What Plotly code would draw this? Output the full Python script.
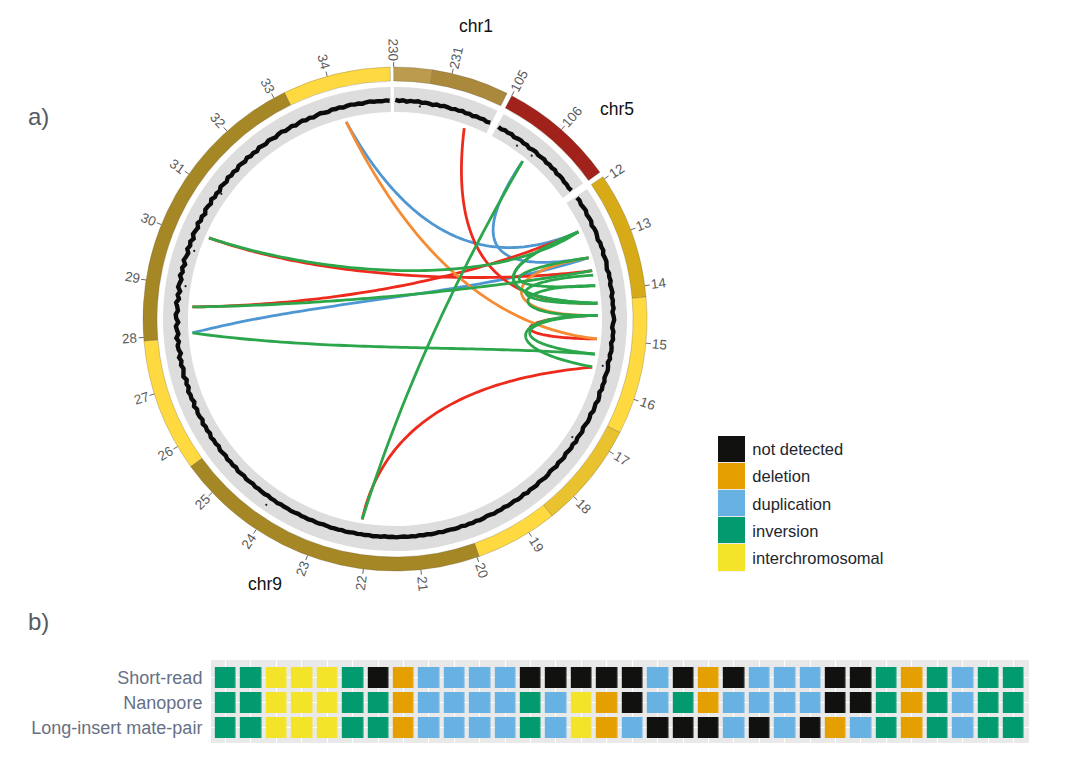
import math
import numpy as np
import plotly.graph_objects as go

W, H = 1065, 762
CX, CY, RMAX = 395, 319, 262

# ---- ideogram: (deg per Mb scale defined by anchors) ----
chrom_anchor_mb = {"chr1": 230, "chr5": 105, "chr9": 12}
chrom_anchor_deg = {"chr1": -0.3, "chr5": 27.6, "chr9": 56.2}
chrom_deg_per_mb = {"chr1": 13.4, "chr5": 13.7, "chr9": 13.1}

band_start = [-0.3, 8.6, 27.6, 55.6, 85.0, 116.8, 141.4, 160.5, 234.2, 265.0, 334.0]
band_end = [8.6, 26.4, 54.4, 85.0, 116.8, 141.4, 160.5, 234.2, 265.0, 334.0, 358.9]
band_color = ["#BC9B4E", "#AB893C", "#A0221A", "#D6AB17", "#FFD940", "#E9C22F", "#FFD940",
              "#A68725", "#FFD940", "#A68725", "#FFD940"]

tick_chr1 = [230, 231]
tick_chr5 = [105, 106]
tick_chr9 = list(range(12, 35))

track_start = [-0.3, 27.9, 55.9]
track_end = [26.2, 54.2, 358.9]

# ---- read-depth track, one list per chromosome (offset from the ring line) ----
depth_chr1 = [1.0, 0.1, 0.8, -0.3, 0.6, 0.2, 0.9, -0.2, 0.5, 0.0, -0.6, 0.4, -0.3, 0.5, 0.1, -0.5,
              0.3, -0.2, 0.6, -0.4, 0.2, -0.6, 0.3, -0.1, 0.4, -0.5, 0.2]
depth_chr5 = [0.2, -0.5, 0.4, -0.2, 0.6, -0.6, 0.1, 0.5, -0.3, 0.4, -0.7, 0.2, 0.6, -0.4, 0.0, 0.5,
              -0.5, 0.3, -0.2, 0.6, -0.6, 0.2, 0.4, -0.3, 0.1, -0.4, 0.3]
depth_chr9 = [
    0.6, 1.2, 0.3, 0.9, 1.4, 0.2, 0.8, 1.1, -0.2, 0.7, 1.0, 0.4, -0.3, 0.9, 0.5, 1.2,
    -0.1, 0.6, 1.0, 0.2, -0.4, 0.8, 0.3, 0.9, -0.2, 0.5, 1.0, -0.3, 0.6, 0.1, 0.8, -0.4,
    0.5, 1.1, 0.0, -0.6, 0.7, 0.3, 0.9, -0.5, 0.4, 0.7, -0.2, 0.6, -0.7, 0.3, 0.8, 0.1,
    -0.4, 0.6, -0.1, 0.5, -0.8, 0.4, 0.9, -0.3, 0.2, 0.7, -0.6, 0.3, 0.5, -0.2, -0.7, 0.6,
    0.1, -0.3, 0.7, -0.5, 0.4, 0.0, -0.6, 0.5, 0.2, -0.4, 0.6, -0.2, -0.6, 0.3, 0.5, -0.1,
    -0.5, 0.4, 0.1, -0.3, 0.5, -0.6, 0.2, 0.4, -0.4, 0.0, 0.3, -0.5, 0.2, -0.1, 0.4, -0.3,
    -0.6, 0.1, 0.3, -0.4, 0.2, -0.2, 0.3, -0.5, 0.1, 0.2, -0.3, -0.1, 0.3, -0.4, 0.0, 0.2,
    -0.3, 0.1, -0.4, 0.3, -0.1, 0.2, -0.3, 0.0, 0.3, -0.2, 0.1, -0.4, 0.2, -0.1, 0.3, -0.3,
    0.1, -0.2, 0.2, -0.4, 0.0, 0.3, -0.3, 0.1, -0.1, 0.3, -0.2, -0.4, 0.2, 0.0, -0.3, 0.3,
    -0.1, 0.2, -0.4, 0.1, 0.3, -0.2, 0.0, -0.3, 0.4, -0.1, 0.2, -0.5, 0.3, 0.1, -0.2, 0.4,
    -0.4, 0.2, 0.5, -0.3, 0.1, 0.6, -0.5, 0.3, -0.1, 0.6, -0.4, 0.2, 0.7, -0.6, 0.3, 0.0,
    0.8, -0.5, 0.4, -0.2, 0.9, -0.7, 0.3, 0.6, -0.4, 1.0, -0.8, 0.5, 0.1, 1.1, -0.6, 0.4,
    -0.9, 1.2, 0.2, -0.7, 0.8, -0.3, 1.2, -1.0, 0.5, 0.9, -0.6, 1.3, -0.8, 0.3, 1.1, -1.1,
    0.7, 1.2, -0.7, 0.1, 1.3, -0.9, 0.6, -1.2, 1.1, 0.3, -0.8, 1.2, -0.5, 0.8, -1.0, 1.2,
    0.0, -0.9, 1.1, -0.4, 0.8, -1.1, 1.0, 0.2, -0.8, 1.2, -0.3, 0.6, -1.0, 0.9, 0.4, -0.7,
    1.1, -0.5, 0.3, -0.9, 0.8, 0.1, -0.6, 1.0, -0.3, 0.5, -0.8, 0.7, 0.2, -0.5, 0.9, -0.4,
    0.3, -0.7, 0.8, 0.0, -0.5, 0.7, 0.2, -0.6, 0.5, 0.9, -0.3, 0.1, 0.7, -0.4, 0.4, 0.8,
    -0.2, 0.5, -0.5, 0.3, 0.8, 0.0, -0.4, 0.6, 0.2, 0.7, -0.3, 0.4, 0.8, 0.1, 0.5, -0.2,
    0.6, 0.9, 0.2, 0.5, 0.1, 0.7, 0.3,
]
stray_chr = ["chr1", "chr5", "chr5", "chr9", "chr9", "chr9", "chr9", "chr9", "chr9"]
stray_mb = [230.52, 105.55, 105.9, 15.55, 17.15, 29.0, 29.75, 31.05, 24.1]
stray_offset = [-4, -6, -5, -5, -5, -6, -6, -4, 8]

# ---- links: endpoints in Mb, bend points as offsets from hub in radial units (x right, y up) ----
link_chr_a = ["chr9", "chr9", "chr1", "chr9", "chr5", "chr5", "chr9", "chr9", "chr9", "chr9", "chr9",
              "chr9", "chr9", "chr9", "chr9", "chr9", "chr9", "chr9", "chr9", "chr9", "chr9"]
link_mb_a = [34.13, 34.13, 231.51, 12.64, 105.83, 105.83, 15.63, 30.12, 30.12, 28.58, 28.58,
             28.02, 28.02, 13.24, 12.64, 13.24, 13.63, 13.86, 14.50, 14.50, 14.50]
link_chr_b = ["chr9"] * 21
link_mb_b = [15.01, 12.64, 14.24, 14.24, 22.16, 13.24, 22.16, 13.53, 12.64, 12.64, 13.53,
             13.24, 15.34, 14.50, 14.24, 13.86, 14.24, 14.50, 15.01, 15.34, 15.62]
link_bend = [
    [(49, -3)], [(45, 27)], [(47, 11)], [(80, 44), (110, 19)], [(23, -22)], [(45, 35)], [(-3, -66)],
    [(-75, 41), (85, 34)], [(-75, 44), (95, 29)], [(-65, 14), (75, 39)], [(-65, 14), (85, 29)],
    [(-75, 19), (75, 23)], [(-65, -33), (75, -26)], [(100, 47), (105, 1)], [(80, 44), (110, 19)],
    [(95, 47), (105, 27)], [(115, 39), (100, 14)], [(110, 34), (110, 1)], [(115, 1), (110, -19)],
    [(115, 1), (110, -26)], [(110, 4), (105, -31)],
]
link_kind = ["orange", "blue", "red", "green", "green", "blue", "red", "red", "green", "red", "green",
             "blue", "green", "orange", "green", "green", "green", "green", "red", "green", "green"]
link_order = [1, 5, 11, 2, 6, 7, 9, 18, 0, 13, 3, 4, 8, 10, 12, 14, 15, 16, 17, 19, 20]
kind_color = {"orange": "#F58B33", "blue": "#4F97D2", "red": "#EE2A1C", "green": "#2BA64B"}

# ---- panel b ----
platforms = ["Short-read", "Nanopore", "Long-insert mate-pair"]
short_read = list("IITTTINDUUUUNNNNNUNDNUUUNNIDIUII")
nanopore = list("IITTTIIDUUUUIUTDNUIDUUUUNNIDIUII")
mate_pair = list("IITTTIIDUUUUIUTDUNNNUNUNDUIDIUII")
class_names = ["not detected", "deletion", "duplication", "inversion", "interchromosomal"]
class_codes = ["N", "D", "U", "I", "T"]
class_colors = ["#111110", "#E4A000", "#68B2E3", "#029A6F", "#F3E42A"]


def deg(ch, mb):
    return chrom_anchor_deg[ch] + (mb - chrom_anchor_mb[ch]) * chrom_deg_per_mb[ch]


def px(r, theta):
    t = math.radians(theta)
    return CX + r * math.sin(t), CY - r * math.cos(t)


def paper(x, y):
    return x / W, 1 - y / H


def to_polar(x, y):
    return np.hypot(x, y), np.degrees(np.arctan2(x, y))


fig = go.Figure()
POLAR = dict(subplot="polar")

# grey track
s = np.array(track_start)
e = np.array(track_end)
fig.add_trace(go.Barpolar(r=[25] * 3, base=[207] * 3, theta=(s + e) / 2, width=e - s,
                          marker=dict(color="#DEDDDD", line=dict(width=0)), hoverinfo="skip", **POLAR))
# ideogram
s = np.array(band_start)
e = np.array(band_end)
fig.add_trace(go.Barpolar(r=[14] * len(s), base=[238] * len(s), theta=(s + e) / 2, width=e - s,
                          marker=dict(color=band_color, line=dict(width=0.5, color="rgba(95,85,60,0.55)")),
                          hoverinfo="skip", **POLAR))

# ticks
tick_pairs = [("chr1", m) for m in tick_chr1] + [("chr5", m) for m in tick_chr5] + [("chr9", m) for m in tick_chr9]
tr, tt = [], []
for ch, m in tick_pairs:
    th = deg(ch, m)
    tr += [252, 257, None]
    tt += [th, th, None]
fig.add_trace(go.Scatterpolar(r=tr, theta=tt, mode="lines", line=dict(color="#666666", width=1),
                              hoverinfo="skip", **POLAR))

# depth track
for ch, vals, i in [("chr1", depth_chr1, 0), ("chr5", depth_chr5, 1), ("chr9", depth_chr9, 2)]:
    th = np.linspace(track_start[i] + 0.4, track_end[i] - 0.3, len(vals))
    rr = 218 + 1.1 * np.array(vals)
    fig.add_trace(go.Scatterpolar(r=rr, theta=th, mode="lines",
                                  line=dict(color="#0B0B0B", width=4.4), hoverinfo="skip", **POLAR))
fig.add_trace(go.Scatterpolar(r=[218 + o for o in stray_offset],
                              theta=[deg(c, m) for c, m in zip(stray_chr, stray_mb)],
                              mode="markers", marker=dict(color="#222222", size=2.2), hoverinfo="skip", **POLAR))

# links
t = np.linspace(0, 1, 80)
for i in link_order:
    pa = px(203, deg(link_chr_a[i], link_mb_a[i]))
    pb = px(203, deg(link_chr_b[i], link_mb_b[i]))
    ctrl = [(pa[0] - CX, CY - pa[1])] + list(link_bend[i]) + [(pb[0] - CX, CY - pb[1])]
    pts = [(np.full_like(t, c[0], dtype=float), np.full_like(t, c[1], dtype=float)) for c in ctrl]
    while len(pts) > 1:
        pts = [((1 - t) * a[0] + t * b[0], (1 - t) * a[1] + t * b[1]) for a, b in zip(pts[:-1], pts[1:])]
    rr, th = to_polar(*pts[0])
    fig.add_trace(go.Scatterpolar(r=rr, theta=th, mode="lines",
                                  line=dict(color=kind_color[link_kind[i]], width=2.8),
                                  hoverinfo="skip", **POLAR))

# panel b heatmap
code_of = {c: k for k, c in enumerate(class_codes)}
z = [[code_of[c] for c in row] for row in (short_read, nanopore, mate_pair)]
n = len(class_colors)
scale = []
for k, c in enumerate(class_colors):
    scale += [[k / n, c], [(k + 1) / n, c]]
fig.add_trace(go.Heatmap(z=z, x=list(range(len(short_read))), y=[0, 1, 2], colorscale=scale, zmin=-0.5, zmax=4.5,
                         showscale=False, xgap=4.4, ygap=4, hoverinfo="skip", xaxis="x", yaxis="y"))
# legend swatches
fig.add_trace(go.Heatmap(z=[[k] for k in range(n)], x=[0], y=list(range(n)), colorscale=scale, zmin=-0.5, zmax=4.5,
                         showscale=False, ygap=1, hoverinfo="skip", xaxis="x2", yaxis="y2"))

ann = []
for ch, m in tick_pairs:
    th = deg(ch, m) % 360
    label = str(m)
    r = 269 if len(label) == 3 else 266
    x, y = paper(*px(r, th))
    ang = th - 90 if th < 180 else th - 270
    ann.append(dict(x=x, y=y, text=label, textangle=ang, font=dict(size=13.5, color="#5A5A5A")))
for txt, xp, yp in [("chr1", 476, 26), ("chr5", 617, 109), ("chr9", 265, 584)]:
    x, y = paper(xp, yp)
    ann.append(dict(x=x, y=y, text=txt, font=dict(size=17.5, color="#111111")))
for txt, xp, yp in [("a)", 38, 117), ("b)", 38, 621)]:
    x, y = paper(xp, yp)
    ann.append(dict(x=x, y=y, text=txt, font=dict(size=24, color="#555A63")))
for a in ann:
    a.update(xref="paper", yref="paper", showarrow=False, xanchor="center", yanchor="middle")

FONT = "Liberation Sans, Arial, sans-serif"
fig.update_layout(
    width=W, height=H, margin=dict(l=0, r=0, t=0, b=0), autosize=False,
    paper_bgcolor="white", plot_bgcolor="#E9E9E9", showlegend=False, font=dict(family=FONT),
    polar=dict(domain=dict(x=[(CX - RMAX) / W, (CX + RMAX) / W], y=[1 - (CY + RMAX) / H, 1 - (CY - RMAX) / H]),
               bgcolor="rgba(0,0,0,0)",
               radialaxis=dict(visible=False, range=[0, RMAX]),
               angularaxis=dict(visible=False, rotation=90, direction="clockwise")),
    xaxis=dict(domain=[211 / W, 1029 / W], range=[-0.57, 31.61], tickvals=list(range(32)), showticklabels=False,
               ticks="", showgrid=True, gridcolor="white", gridwidth=1.4, zeroline=False, showline=False),
    yaxis=dict(domain=[1 - 743 / H, 1 - 660 / H], range=[2.62, -0.7], tickvals=[0, 1, 2], ticktext=platforms,
               ticks="outside", ticklen=4, tickcolor="rgba(0,0,0,0)", showgrid=True, gridcolor="white", gridwidth=1.4,
               zeroline=False, showline=False, tickfont=dict(size=18, color="#667084", family=FONT)),
    xaxis2=dict(domain=[718 / W, 745 / W], range=[-0.5, 0.5], visible=False, anchor="y2"),
    yaxis2=dict(domain=[1 - 571.5 / H, 1 - 436 / H], range=[4.5, -0.5], tickvals=list(range(n)), ticktext=class_names,
                side="right", anchor="x2", ticks="outside", ticklen=3, tickcolor="rgba(0,0,0,0)", showgrid=False,
                zeroline=False, showline=False, tickfont=dict(size=16.5, color="#22262E", family=FONT)),
    annotations=ann,
)
fig.write_html("out.html", config={"displayModeBar": False},
               post_script="document.body.style.margin='0';document.documentElement.style.overflow='hidden';")
